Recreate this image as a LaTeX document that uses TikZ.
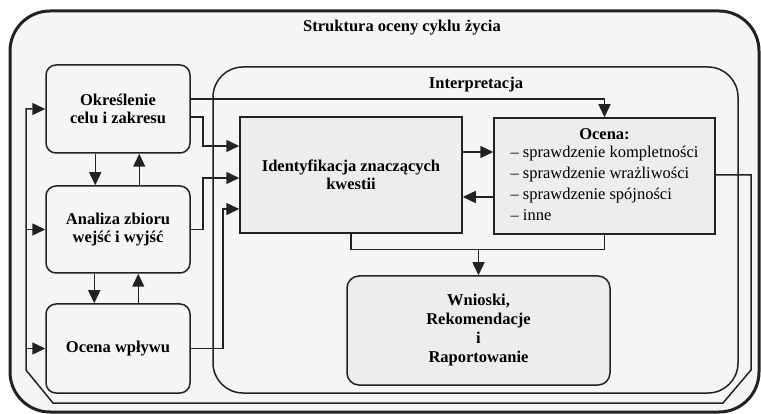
\documentclass[tikz,border=0pt]{standalone}
\usepackage{fontspec}
\setmainfont{Liberation Serif}
\usetikzlibrary{arrows.meta,calc}
\definecolor{bgfill}{HTML}{F5F5F5}
\definecolor{boxfill}{HTML}{EDEDEF}
\definecolor{ink}{HTML}{222222}
\tikzset{
  frame/.style={draw=ink,line width=1.5pt,fill=bgfill},
  lbox/.style={draw=ink,line width=1.5pt,fill=bgfill,rounded corners=10pt,
    minimum width=144pt,align=center,font=\fontsize{16.5}{17.5}\selectfont\bfseries,inner sep=0pt},
  gbox/.style={draw=ink,line width=1.5pt,fill=boxfill,inner sep=0pt},
  conn/.style={draw=ink,line width=1.5pt},
  arr/.style={conn,-{Triangle[length=13pt,width=12pt]}},
}
\begin{document}
\begin{tikzpicture}[x=1pt,y=-1pt]
\useasboundingbox (0,0) rectangle (761,414);
\fill[white] (0,0) rectangle (761,414);
% outer frame
\draw[draw=ink,line width=3pt,fill=bgfill,rounded corners=40pt] (10,11) rectangle (759,412);
\node[font=\fontsize{16.5}{18}\selectfont\bfseries] (title) at (402,28) {Struktura oceny cyklu życia};
% interpretation frame
\draw[frame,rounded corners=30pt] (213,67) rectangle (738,393);
\node[font=\fontsize{16.5}{18}\selectfont\bfseries] (interp) at (476,85) {Interpretacja};
% left boxes
\node[lbox,minimum height=88pt] (okr) at (118,109) {Określenie\\celu i zakresu};
\node[lbox,minimum height=87pt] (anal) at (118,229.5) {Analiza zbioru\\wejść i wyjść};
\node[lbox,minimum height=89pt] (wpl) at (118,348.5) {Ocena wpływu};
% interpretation boxes
\node[gbox,minimum width=222pt,minimum height=116pt,align=center,
  font=\fontsize{16.5}{18}\selectfont\bfseries] (ident) at (351,175) {Identyfikacja znaczących\\kwestii};
\node[gbox,minimum width=221pt,minimum height=116pt,font=\fontsize{16.5}{21}\selectfont] (ocena) at (604.5,176)
  {\begin{tabular}{@{}l@{}}\multicolumn{1}{@{}c@{}}{\textbf{Ocena:}}\\[-3pt]
   – sprawdzenie kompletności\\
   – sprawdzenie wrażliwości\\
   – sprawdzenie spójności\\
   – inne\end{tabular}};
\node[gbox,rounded corners=12pt,minimum width=263pt,minimum height=109pt,align=center,
  font=\fontsize{16.5}{19}\selectfont\bfseries] (wn) at (478.5,330.5) {Wnioski,\\Rekomendacje\\i\\Raportowanie};
% arrows between left boxes
\draw[arr] ($(okr.south west)+(50,0)$) -- ($(anal.north west)+(50,0)$);
\draw[arr] ($(anal.north west)+(94,0)$) -- ($(okr.south west)+(94,0)$);
\draw[arr] ($(anal.south west)+(49,0)$) -- ($(wpl.north west)+(49,0)$);
\draw[arr] ($(wpl.north west)+(93,0)$) -- ($(anal.south west)+(93,0)$);
% left boxes to interpretation
\draw[arr] ($(okr.east)+(0,-10)$) -| (ocena.north);
\draw[arr] ($(okr.east)+(0,8)$) -- ++(12,0) |- ($(ident.west)+(0,-29)$);
\draw[arr] (anal.east) -- ++(12,0) |- ($(ident.west)+(0,3)$);
\draw[arr] (wpl.east) -- ++(32,0) |- ($(ident.west)+(0,34)$);
% identification <-> evaluation
\draw[arr] ($(ident.east)+(0,-23)$) -- ($(ocena.west |- ident.east)+(0,-23)$);
\draw[arr] ($(ocena.west |- ident.east)+(0,22)$) -- ($(ident.east)+(0,22)$);
% to conclusions
\coordinate (merge) at ($(ident.south)+(0,16)$);
\draw[conn] (ident.south) -- (merge) -| (ocena.south);
\draw[arr] (merge -| wn.north) -- (wn.north);
% feedback loop
\coordinate (fbR) at (751,370);
\coordinate (fbBR) at (723,403);
\coordinate (fbBL) at (53,403);
\coordinate (fbL) at (26,370);
\draw[arr] (ocena.east |- ident.east) -- (ident.east -| fbR) -- (fbR) -- (fbBR) -- (fbBL) -- (fbL) |- (okr.west);
\draw[arr] (fbL |- anal.west) -- (anal.west);
\draw[arr] (fbL |- wpl.west) -- (wpl.west);
\end{tikzpicture}
\end{document}
